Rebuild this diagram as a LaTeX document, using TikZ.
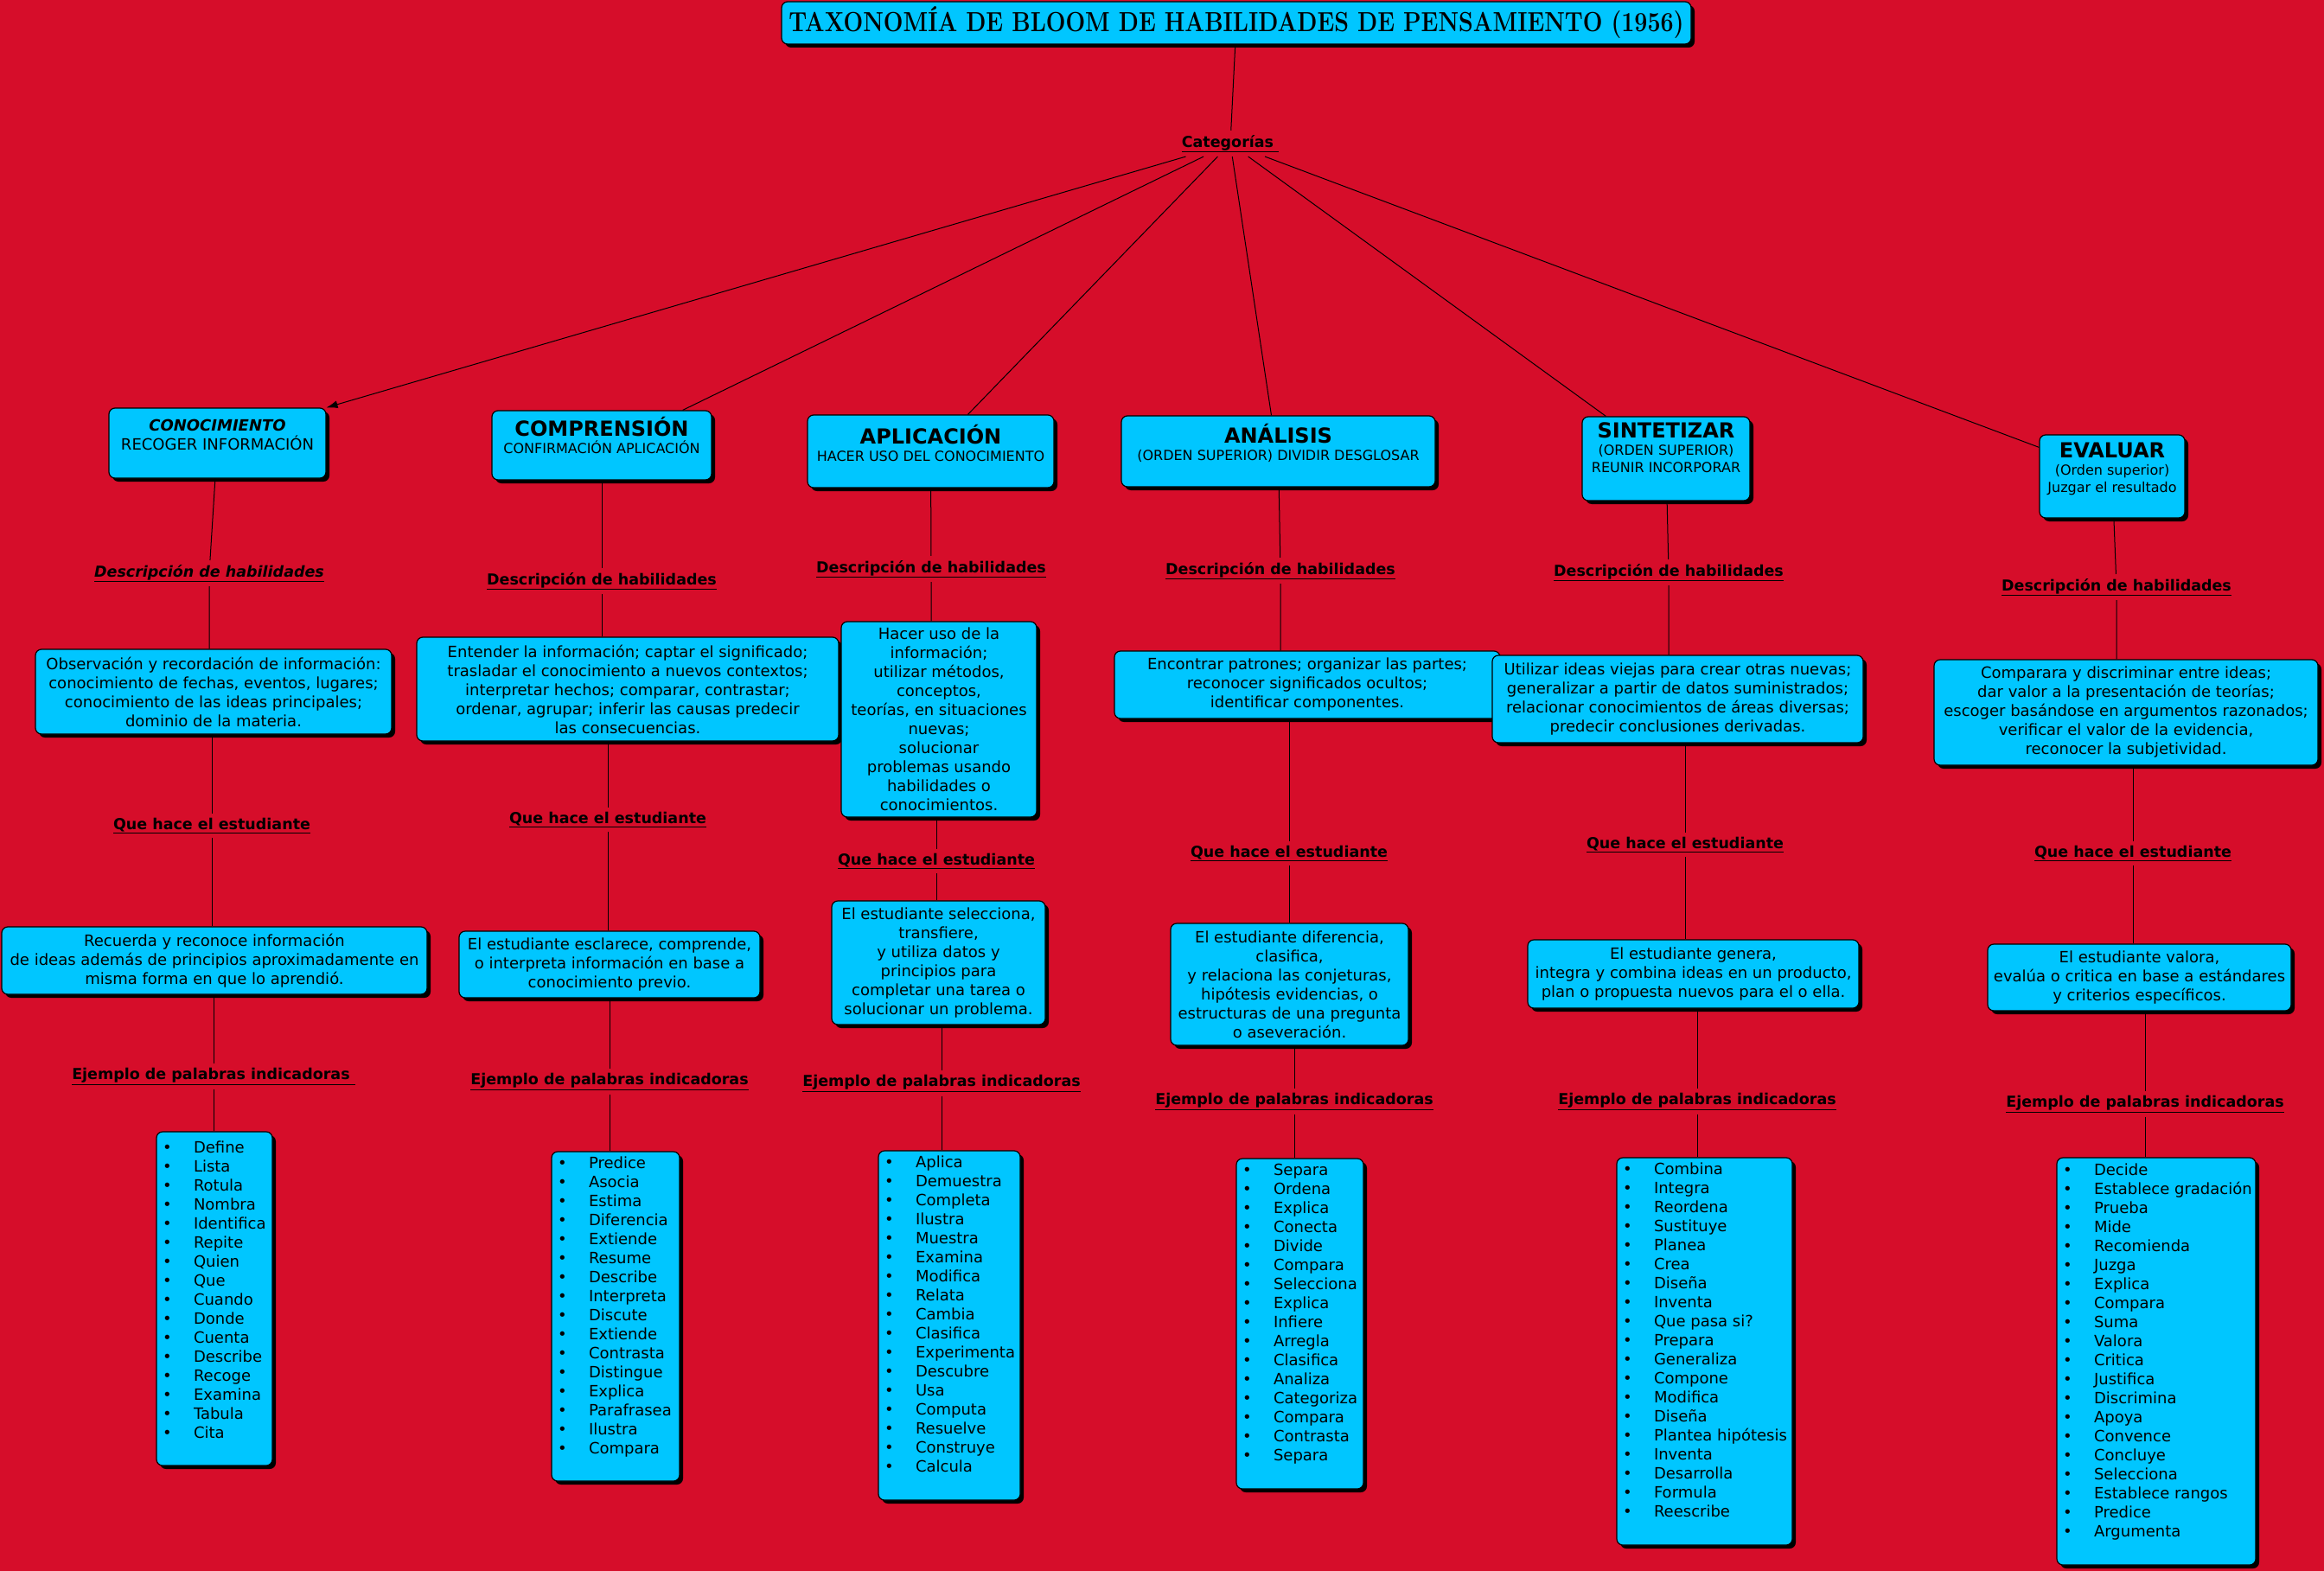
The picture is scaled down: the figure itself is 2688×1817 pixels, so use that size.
\documentclass[tikz,border=0pt]{standalone}
\usepackage{fontspec}
\newfontfamily\vsans{DejaVu Sans}
\usetikzlibrary{arrows.meta,shadows}
\definecolor{bgred}{RGB}{214,13,42}
\definecolor{boxcyan}{RGB}{0,198,255}
\newcommand{\txt}{\vsans\fontsize{18}{22}\selectfont}
\newcommand{\subf}{\vsans\fontsize{16}{20}\selectfont}
\newcommand{\ttl}{\bfseries\fontsize{24}{26}\selectfont}
% box with text at the top: width, height, top gap, text
\newcommand{\topbox}[4]{\parbox[c][#2pt][t]{#1pt}{\centering\vspace*{#3pt}#4}}
% bullet list box: width, height, top gap, items
\newcommand{\wlist}[4]{\parbox[c][#2pt][t]{#1pt}{\raggedright\vspace*{#3pt}#4}}
\newcommand{\bi}[1]{\hspace*{7pt}\makebox[36pt][l]{\textbullet}#1\par}
\tikzset{
  card/.style={draw=black,line width=1.2pt,fill=boxcyan,rounded corners=7pt,
    drop shadow={shadow xshift=4pt,shadow yshift=-4pt,fill=black,opacity=1},
    inner sep=0pt,align=center,font=\txt},
  sz/.style 2 args={minimum width=#1pt,minimum height=#2pt},
  lbl/.style={font=\vsans\bfseries\fontsize{17.5}{21}\selectfont,inner sep=5pt},
  link/.style={line width=1pt,draw=black},
}

\begin{document}
\begin{tikzpicture}[x=1pt,y=-1pt]
  \useasboundingbox (0,0) rectangle (2688,1817);
  \fill[bgred] (0,0) rectangle (2688,1817);
  % title and root
  \node[card,sz={1052}{49}] (ttl) at (1430,26.5)
    {\resizebox{1035pt}{29pt}{\rmfamily\bfseries TAXONOMÍA DE BLOOM DE HABILIDADES DE PENSAMIENTO (1956)}};
  \node[lbl] (cat) at (1423,166) {\underline{Categorías\ }};
  % the six categories
  \node[card] (con) at (251.5,512.5) {\topbox{251}{81}{13}{{\bfseries\itshape CONOCIMIENTO}\\ RECOGER INFORMACIÓN}};
  \node[card,font=\subf] (com) at (696,515) {\topbox{254}{80}{7}{{\ttl COMPRENSIÓN}\\ CONFIRMACIÓN APLICACIÓN}};
  \node[card,font=\subf] (apl) at (1076.5,522) {\topbox{285}{84}{11}{{\ttl APLICACIÓN}\\ HACER USO DEL CONOCIMIENTO}};
  \node[card,font=\subf] (ana) at (1478.5,522) {\topbox{363}{82}{9}{{\ttl ANÁLISIS}\\ (ORDEN SUPERIOR) DIVIDIR DESGLOSAR}};
  \node[card,font=\subf] (sin) at (1927,530.5) {\topbox{194}{97}{7}{{\ttl SINTETIZAR}\\ (ORDEN SUPERIOR)\\ REUNIR INCORPORAR}};
  \node[card,font=\subf] (eva) at (2443,551) {\topbox{168}{96}{9}{{\ttl EVALUAR}\\ (Orden superior)\\ Juzgar el resultado}};
  % labels
  \node[lbl] (hab1) at (242,663) {\itshape\underline{Descripción de habilidades}};
  \node[lbl] (hab2) at (696,672) {\underline{Descripción de habilidades}};
  \node[lbl] (hab3) at (1077,658) {\underline{Descripción de habilidades}};
  \node[lbl] (hab4) at (1481,660) {\underline{Descripción de habilidades}};
  \node[lbl] (hab5) at (1930,662) {\underline{Descripción de habilidades}};
  \node[lbl] (hab6) at (2448,679) {\underline{Descripción de habilidades}};
  \node[lbl] (est1) at (245,955) {\underline{Que hace el estudiante}};
  \node[lbl] (est2) at (703,948) {\underline{Que hace el estudiante}};
  \node[lbl] (est3) at (1083,996) {\underline{Que hace el estudiante}};
  \node[lbl] (est4) at (1491,987) {\underline{Que hace el estudiante}};
  \node[lbl] (est5) at (1949,977) {\underline{Que hace el estudiante}};
  \node[lbl] (est6) at (2467,987) {\underline{Que hace el estudiante}};
  \node[lbl] (pal1) at (247,1245) {\underline{Ejemplo de palabras indicadoras\ }};
  \node[lbl] (pal2) at (705,1251) {\underline{Ejemplo de palabras indicadoras}};
  \node[lbl] (pal3) at (1089,1253) {\underline{Ejemplo de palabras indicadoras}};
  \node[lbl] (pal4) at (1497,1274) {\underline{Ejemplo de palabras indicadoras}};
  \node[lbl] (pal5) at (1963,1274) {\underline{Ejemplo de palabras indicadoras}};
  \node[lbl] (pal6) at (2481,1277) {\underline{Ejemplo de palabras indicadoras}};
  % skill descriptions
  \node[card,sz={412}{98}] (des1) at (247,800) {Observación y recordación de información:\\ conocimiento de fechas, eventos, lugares;\\ conocimiento de las ideas principales;\\ dominio de la materia.};
  \node[card,sz={488}{120}] (des2) at (726,797) {Entender la información; captar el significado;\\ trasladar el conocimiento a nuevos contextos;\\ interpretar hechos; comparar, contrastar;\\ ordenar, agrupar; inferir las causas predecir\\ las consecuencias.};
  \node[card,sz={226}{226}] (des3) at (1086,832) {Hacer uso de la\\ información;\\ utilizar métodos,\\ conceptos,\\ teorías, en situaciones\\ nuevas;\\ solucionar\\ problemas usando\\ habilidades o\\ conocimientos.};
  \node[card,sz={446}{78}] (des4) at (1512,792) {Encontrar patrones; organizar las partes;\\ reconocer significados ocultos;\\ identificar componentes.};
  \node[card,sz={429}{101}] (des5) at (1940.5,808.5) {Utilizar ideas viejas para crear otras nuevas;\\ generalizar a partir de datos suministrados;\\ relacionar conocimientos de áreas diversas;\\ predecir conclusiones derivadas.};
  \node[card,sz={444}{122}] (des6) at (2459,824) {Comparara y discriminar entre ideas;\\ dar valor a la presentación de teorías;\\ escoger basándose en argumentos razonados;\\ verificar el valor de la evidencia,\\ reconocer la subjetividad.};
  % what the student does
  \node[card,sz={492}{78}] (act1) at (248,1111) {Recuerda y reconoce información\\ de ideas además de principios aproximadamente en\\ misma forma en que lo aprendió.};
  \node[card,sz={348}{77}] (act2) at (705,1115.5) {El estudiante esclarece, comprende,\\ o interpreta información en base a\\ conocimiento previo.};
  \node[card,sz={247}{143}] (act3) at (1085.5,1113.5) {El estudiante selecciona,\\ transfiere,\\ y utiliza datos y\\ principios para\\ completar una tarea o\\ solucionar un problema.};
  \node[card,sz={275}{141}] (act4) at (1491.5,1138.5) {El estudiante diferencia,\\ clasifica,\\ y relaciona las conjeturas,\\ hipótesis evidencias, o\\ estructuras de una pregunta\\ o aseveración.};
  \node[card,sz={383}{79}] (act5) at (1958.5,1126.5) {El estudiante genera,\\ integra y combina ideas en un producto,\\ plan o propuesta nuevos para el o ella.};
  \node[card,sz={351}{77}] (act6) at (2474.5,1130.5) {El estudiante valora,\\ evalúa o critica en base a estándares\\ y criterios específicos.};
  % word lists
  \node[card] (lst1) at (248,1502) {\wlist{134}{386}{11}{\bi{Define}\bi{Lista}\bi{Rotula}\bi{Nombra}\bi{Identifica}\bi{Repite}\bi{Quien}\bi{Que}\bi{Cuando}\bi{Donde}\bi{Cuenta}\bi{Describe}\bi{Recoge}\bi{Examina}\bi{Tabula}\bi{Cita}}};
  \node[card] (lst2) at (712,1522.5) {\wlist{148}{381}{6}{\bi{Predice}\bi{Asocia}\bi{Estima}\bi{Diferencia}\bi{Extiende}\bi{Resume}\bi{Describe}\bi{Interpreta}\bi{Discute}\bi{Extiende}\bi{Contrasta}\bi{Distingue}\bi{Explica}\bi{Parafrasea}\bi{Ilustra}\bi{Compara}}};
  \node[card] (lst3) at (1098,1533) {\wlist{164}{404}{6}{\bi{Aplica}\bi{Demuestra}\bi{Completa}\bi{Ilustra}\bi{Muestra}\bi{Examina}\bi{Modifica}\bi{Relata}\bi{Cambia}\bi{Clasifica}\bi{Experimenta}\bi{Descubre}\bi{Usa}\bi{Computa}\bi{Resuelve}\bi{Construye}\bi{Calcula}}};
  \node[card] (lst4) at (1503.5,1531) {\wlist{147}{382}{6}{\bi{Separa}\bi{Ordena}\bi{Explica}\bi{Conecta}\bi{Divide}\bi{Compara}\bi{Selecciona}\bi{Explica}\bi{Infiere}\bi{Arregla}\bi{Clasifica}\bi{Analiza}\bi{Categoriza}\bi{Compara}\bi{Contrasta}\bi{Separa}}};
  \node[card] (lst5) at (1971.5,1563) {\wlist{203}{448}{6}{\bi{Combina}\bi{Integra}\bi{Reordena}\bi{Sustituye}\bi{Planea}\bi{Crea}\bi{Diseña}\bi{Inventa}\bi{Que pasa si?}\bi{Prepara}\bi{Generaliza}\bi{Compone}\bi{Modifica}\bi{Diseña}\bi{Plantea hipótesis}\bi{Inventa}\bi{Desarrolla}\bi{Formula}\bi{Reescribe}}};
  \node[card] (lst6) at (2494,1574.5) {\wlist{230}{471}{7}{\bi{Decide}\bi{Establece gradación}\bi{Prueba}\bi{Mide}\bi{Recomienda}\bi{Juzga}\bi{Explica}\bi{Compara}\bi{Suma}\bi{Valora}\bi{Critica}\bi{Justifica}\bi{Discrimina}\bi{Apoya}\bi{Convence}\bi{Concluye}\bi{Selecciona}\bi{Establece rangos}\bi{Predice}\bi{Argumenta}}};
  % connectors
  \draw[link] (ttl) -- (cat);
  \draw[link,-{Latex[length=13pt,width=9pt]}] (cat) -- (con.north east);
  \draw[link] (cat) -- ([xshift=-34pt]com.north east);
  \draw[link] (cat) -- ([xshift=43pt]apl.north);
  \draw[link] (cat) -- ([xshift=-8pt]ana.north);
  \draw[link] (cat) -- ([xshift=28pt]sin.north west);
  \draw[link] (cat) -- ([yshift=-15pt]eva.north west);
  \foreach \c/\n in {con/1,com/2,apl/3,ana/4,sin/5,eva/6}{
    \draw[link] (\c) -- (hab\n) -- (des\n.north -| hab\n);
    \draw[link] (des\n.south -| est\n) -- (est\n) -- (act\n.north -| est\n);
    \draw[link] (act\n.south -| pal\n) -- (pal\n) -- (lst\n.north -| pal\n);
  }
\end{tikzpicture}
\end{document}
